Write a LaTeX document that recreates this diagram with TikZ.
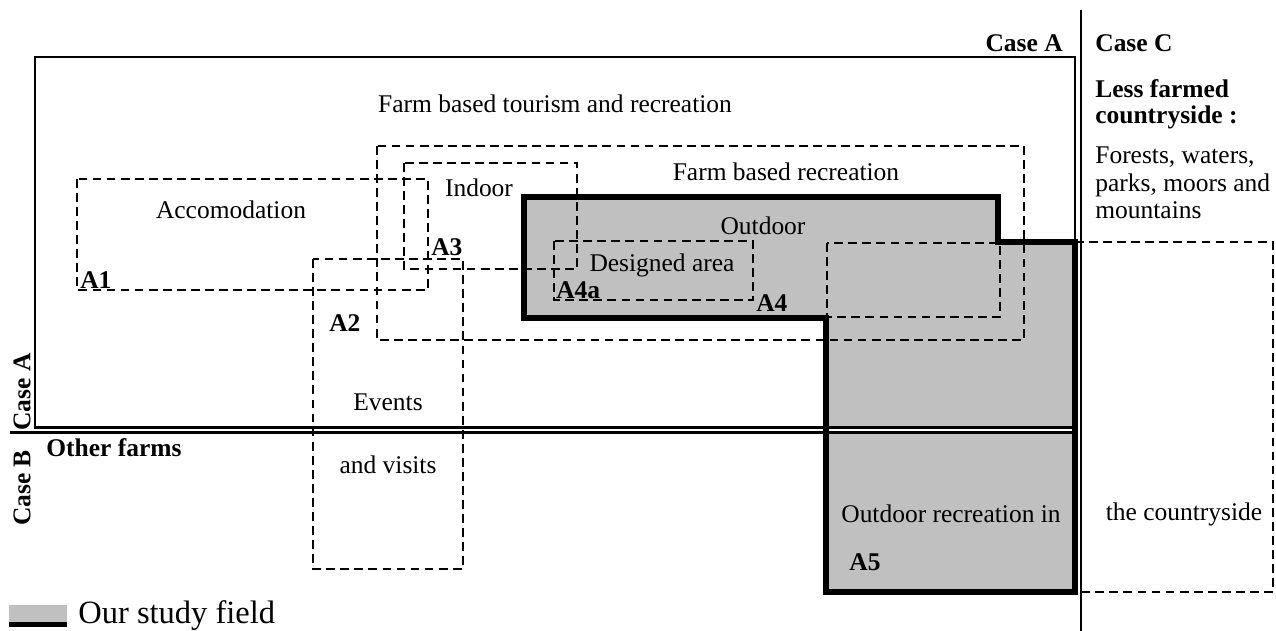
\documentclass[tikz,border=0pt]{standalone}
\usepackage{fontspec}
\setmainfont{Liberation Serif}
\usepackage{tikz}
\definecolor{fieldgrey}{HTML}{C0C0C0}
\tikzset{
  casebox/.style={line width=1.6pt},
  dashbox/.style={line width=0.7pt, dash pattern=on 5pt off 3pt},
  fieldline/.style={line width=3.4pt, line join=miter},
  lbl/.style={inner sep=0pt, font=\fontsize{14.5}{17}\selectfont},
  tag/.style={inner sep=0pt, font=\fontsize{14.5}{17}\selectfont\bfseries},
}

\begin{document}
\begin{tikzpicture}[x=0.02cm, y=-0.02cm]
			%%%%% START %%%%%
			\useasboundingbox (0, 0) rectangle (1276, 631);
			
			% study field (grey area)
			\fill[fieldgrey] (524, 197) -- (998, 197) -- (998, 242) -- (1075, 242) -- (1075, 592) -- (826, 592) -- (826, 318) -- (524, 318) -- cycle;
			\fill[white] (828, 428) rectangle (1073, 432.5);
			
			% case A box and case B line
			\draw[casebox] (35, 57) rectangle (1075, 427.8);
			\draw[casebox] (10, 432.6) -- (1075, 432.6);
			\draw[line width=1.3pt] (1081, 10) -- (1081, 631);
			
			% dashed areas
			\draw[dashbox] (377, 146) rectangle (1024, 340);
			\draw[dashbox] (404, 163) rectangle (577, 269);
			\draw[dashbox] (77, 179) rectangle (428, 290);
			\draw[dashbox] (313, 259) rectangle (463, 569);
			\draw[dashbox] (554, 241) rectangle (753, 300);
			\draw[dashbox] (827, 243) rectangle (1000, 317);
			\draw[dashbox] (1075, 242) -- (1273, 242) -- (1273, 592) -- (1081, 592);
			
			\draw[fieldline] (524, 197) -- (998, 197) -- (998, 242) -- (1075, 242) -- (1075, 592) -- (826, 592) -- (826, 318) -- (524, 318) -- cycle;
			
			% texts
			\node[lbl] (tourism) at (555, 104) {Farm based tourism and recreation};
			\node[lbl] (farmrec) at (786, 172) {Farm based recreation};
			\node[lbl] (indoor) at (479, 188) {Indoor};
			\node[lbl] (accom) at (231, 210) {Accomodation};
			\node[lbl] (outdoor) at (763, 226) {Outdoor};
			\node[lbl] (designed) at (662, 265) {Designed area};
			\node[lbl] (events) at (388, 402) {Events};
			\node[lbl] (visits) at (388, 465) {and visits};
			\node[lbl] (outrec) at (951, 514) {Outdoor recreation in};
			\node[lbl] (country) at (1184, 514) {the countryside};
			
			\node[tag, anchor=west] (a1) at (80, 280) {A1};
			\node[tag, anchor=west] (a2) at (329, 323) {A2};
			\node[tag, anchor=west] (a3) at (431, 247) {A3};
			\node[tag, anchor=west] (a4a) at (556, 290) {A4a};
			\node[tag, anchor=west] (a4) at (756, 303) {A4};
			\node[tag, anchor=west] (a5) at (849, 562) {A5};
			
			\node[tag, anchor=east] (caseatop) at (1063, 43) {Case A};
			\node[tag, anchor=west] (casec) at (1095, 43) {Case C};
			\node[tag, anchor=west, align=left, font=\fontsize{14.5}{14.8}\selectfont\bfseries] (lessfarmed) at (1095, 104) {Less farmed\\countryside :};
			\node[lbl, anchor=west, align=left, font=\fontsize{14.5}{15.6}\selectfont] (forests) at (1095, 183) {Forests, waters,\\parks, moors and\\mountains};
			
			\node[tag, rotate=90] (caseaside) at (22, 392) {Case A};
			\node[tag, rotate=90] (caseb) at (22, 488) {Case B};
			\node[tag, anchor=west] (otherfarms) at (46, 448) {Other farms};
			
			% legend
			\fill[fieldgrey] (9, 605) rectangle (67, 622);
			\fill[black] (9, 622) rectangle (67, 627);
			\node[inner sep=0pt, anchor=west, font=\fontsize{18.5}{20}\selectfont] (legend) at (78, 616) {Our study field};
			%%%%% END %%%%%
\end{tikzpicture}
\end{document}
